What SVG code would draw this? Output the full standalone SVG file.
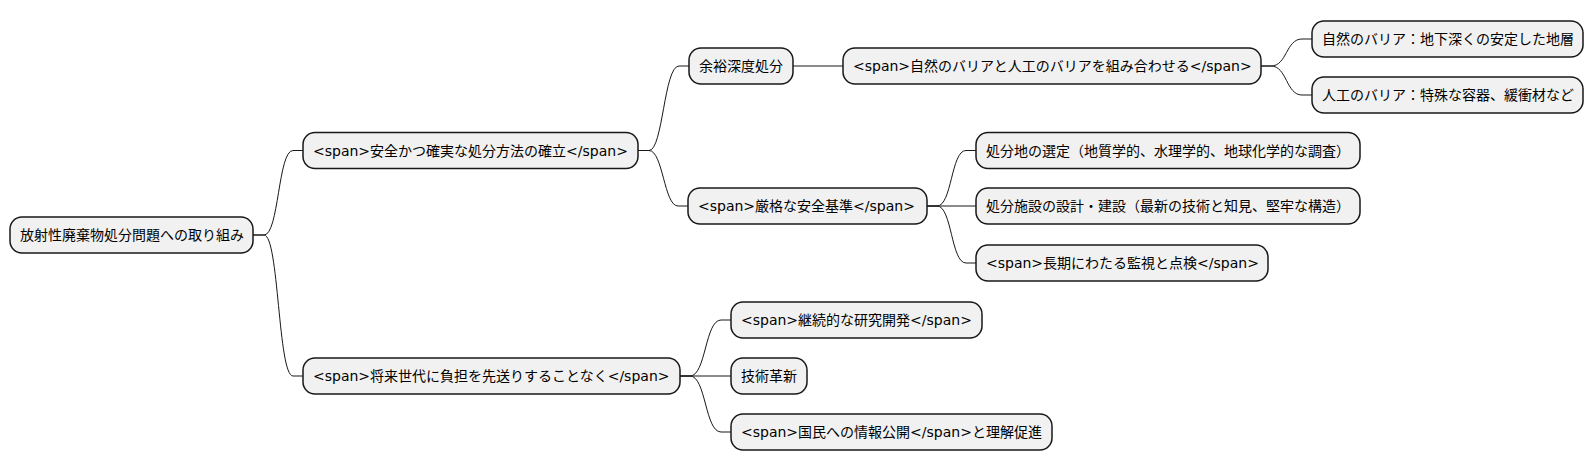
<svg xmlns="http://www.w3.org/2000/svg" width="1594" height="471" viewBox="0 0 1594 471">
<style>
.n rect{fill:#F1F1F1;stroke:#181818;stroke-width:1.5}
.n text{font-family:"DejaVu Sans","Noto Sans CJK JP",sans-serif;font-size:14px;fill:#000}
#connectors path{fill:none;stroke:#181818;stroke-width:1}
</style>
<rect width="1594" height="471" fill="#FFFFFF"/>
<g id="connectors">
<path d="M253,235 L264,235 C279,235 278,150.5 293,150.5 L303,150.5"/>
<path d="M253,235 L264,235 C279,235 278,376 293,376 L303,376"/>
<path d="M638,150.5 L649,150.5 C663,150.5 664,66 679,66 L689,66"/>
<path d="M638,150.5 L649,150.5 C663,150.5 664,206 678,206 L688,206"/>
<path d="M793,66 L843,66"/>
<path d="M1261,66 L1271,66 C1287,66 1286,39 1302,39 L1312,39"/>
<path d="M1261,66 L1271,66 C1287,66 1286,95 1302,95 L1312,95"/>
<path d="M927,206 L937,206 C952,206 951,150.5 966,150.5 L976,150.5"/>
<path d="M927,206 L976,206"/>
<path d="M927,206 L937,206 C952,206 951,263 966,263 L976,263"/>
<path d="M680,376 L690,376 C706,376 705,320 721,320 L731,320"/>
<path d="M680,376 L731,376"/>
<path d="M680,376 L690,376 C706,376 705,432 721,432 L731,432"/>
</g>
<g id="root" class="n"><rect x="10" y="217" width="243" height="36" rx="12"/><text x="20" y="240">放射性廃棄物処分問題への取り組み</text></g>
<g id="n1" class="n"><rect x="303" y="132.5" width="335" height="36" rx="12"/><text x="313" y="155.5">&lt;span&gt;安全かつ確実な処分方法の確立&lt;/span&gt;</text></g>
<g id="n11" class="n"><rect x="689" y="48" width="104" height="36" rx="12"/><text x="699" y="71">余裕深度処分</text></g>
<g id="n111" class="n"><rect x="843" y="48" width="418" height="36" rx="12"/><text x="853" y="71">&lt;span&gt;自然のバリアと人工のバリアを組み合わせる&lt;/span&gt;</text></g>
<g id="n1111" class="n"><rect x="1312" y="21" width="271" height="36" rx="12"/><text x="1322" y="44">自然のバリア：地下深くの安定した地層</text></g>
<g id="n1112" class="n"><rect x="1312" y="77" width="271" height="36" rx="12"/><text x="1322" y="100">人工のバリア：特殊な容器、緩衝材など</text></g>
<g id="n12" class="n"><rect x="688" y="188" width="239" height="36" rx="12"/><text x="698" y="211">&lt;span&gt;厳格な安全基準&lt;/span&gt;</text></g>
<g id="n121" class="n"><rect x="976" y="132.5" width="384" height="36" rx="12"/><text x="986" y="155.5">処分地の選定（地質学的、水理学的、地球化学的な調査）</text></g>
<g id="n122" class="n"><rect x="976" y="188" width="384" height="36" rx="12"/><text x="986" y="211">処分施設の設計・建設（最新の技術と知見、堅牢な構造）</text></g>
<g id="n123" class="n"><rect x="976" y="245" width="292" height="36" rx="12"/><text x="986" y="268">&lt;span&gt;長期にわたる監視と点検&lt;/span&gt;</text></g>
<g id="n2" class="n"><rect x="303" y="358" width="377" height="36" rx="12"/><text x="313" y="381">&lt;span&gt;将来世代に負担を先送りすることなく&lt;/span&gt;</text></g>
<g id="n21" class="n"><rect x="731" y="302" width="251" height="36" rx="12"/><text x="741" y="325">&lt;span&gt;継続的な研究開発&lt;/span&gt;</text></g>
<g id="n22" class="n"><rect x="731" y="358" width="76" height="36" rx="12"/><text x="741" y="381">技術革新</text></g>
<g id="n23" class="n"><rect x="731" y="414" width="321" height="36" rx="12"/><text x="741" y="437">&lt;span&gt;国民への情報公開&lt;/span&gt;と理解促進</text></g>
</svg>
